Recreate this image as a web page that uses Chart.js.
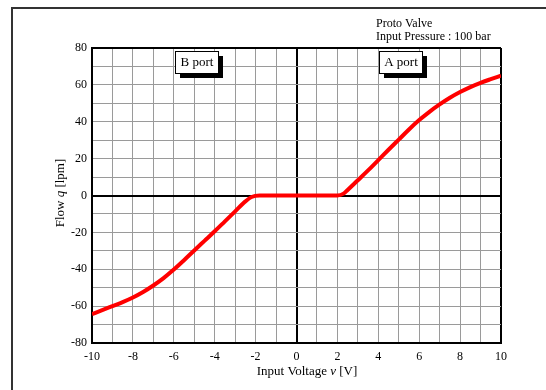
<!DOCTYPE html>
<html>
<head>
<meta charset="utf-8">
<script src="https://cdn.jsdelivr.net/npm/chart.js@4/dist/chart.umd.min.js"></script>
<style>
  html, body { margin: 0; padding: 0; background: #fff; }
  #wrap { width: 546px; height: 390px; position: relative; }
</style>
</head>
<body>
<div id="wrap"><canvas id="c" width="546" height="390"></canvas></div>
<script>
// Flow characteristic of the prototype valve (input pressure 100 bar)
const voltage = [-10, -9.5, -9, -8.5, -8, -7.5, -7, -6.5, -6, -5.5, -5, -4.5, -4, -3.5, -3, -2.5, -2.2, -1.8, 0, 2, 2.3, 2.5, 3, 3.5, 4, 4.5, 5, 5.5, 6, 6.5, 7, 7.5, 8, 8.5, 9, 9.5, 10];
const flow = [-64.3, -62.2, -60, -57.8, -55.3, -52.3, -48.8, -44.8, -40.2, -35.1, -29.8, -24.6, -19.4, -14, -8.6, -3.2, -0.8, 0, 0, 0, 1, 3, 8.3, 13.6, 19.2, 24.8, 30.3, 35.8, 40.9, 45.4, 49.4, 53, 56.1, 58.8, 61.1, 63.1, 65];

const xTicks = [-10, -8, -6, -4, -2, 0, 2, 4, 6, 8, 10];
const yTicks = [-80, -60, -40, -20, 0, 20, 40, 60, 80];
const portLabels = [
  { text: 'B port', x: -5.95, y: 78.2 },
  { text: 'A port', x: 4.05, y: 78.2 }
];
const noteLines = ['Proto Valve', 'Input Pressure : 100 bar'];

const SERIF = '"Liberation Serif", "Times New Roman", serif';

function gridColor(ctx, min, max) {
  const v = ctx.tick.value;
  return (v === 0 || v === min || v === max) ? '#000' : '#9a9a9a';
}
function gridWidth(ctx, min, max) {
  const v = ctx.tick.value;
  return (v === 0 || v === min || v === max) ? 2 : 1;
}

const decorations = {
  id: 'decorations',
  beforeDraw(chart) {
    const c = chart.ctx;
    c.save();
    c.fillStyle = '#fff';
    c.fillRect(0, 0, chart.width, chart.height);
    // outer frame
    c.strokeStyle = '#333';
    c.lineWidth = 2;
    c.strokeRect(12, 8, 700, 600);
    c.restore();
  },
  afterDraw(chart) {
    const c = chart.ctx;
    const xs = chart.scales.x, ys = chart.scales.y;
    c.save();
    // port boxes with drop shadow
    c.font = '13px ' + SERIF;
    c.textBaseline = 'middle';
    c.textAlign = 'center';
    portLabels.forEach(p => {
      const left = Math.round(xs.getPixelForValue(p.x));
      const top = Math.round(ys.getPixelForValue(p.y));
      const w = 43, h = 22;
      c.fillStyle = '#000';
      c.fillRect(left + 5, top + 5, w, h);
      c.fillStyle = '#fff';
      c.fillRect(left, top, w, h);
      c.strokeStyle = '#000';
      c.lineWidth = 1;
      c.strokeRect(left + 0.5, top + 0.5, w, h);
      c.fillStyle = '#000';
      c.fillText(p.text, left + w / 2 + 0.5, top + h / 2 + 1);
    });
    // note in the top-right corner
    c.font = '12px ' + SERIF;
    c.textAlign = 'left';
    c.textBaseline = 'alphabetic';
    c.fillText(noteLines[0], 376, 27);
    c.fillText(noteLines[1], 376, 40);

    // axis titles with italic variable names
    function mixed(parts, cx, cy) {
      let total = 0;
      parts.forEach(p => { c.font = (p.it ? 'italic ' : '') + '13px ' + SERIF; p.w = c.measureText(p.t).width; total += p.w; });
      let x = cx - total / 2;
      parts.forEach(p => { c.font = (p.it ? 'italic ' : '') + '13px ' + SERIF; c.fillText(p.t, x, cy); x += p.w; });
    }
    c.textBaseline = 'middle';
    c.textAlign = 'left';
    mixed([{ t: 'Input Voltage ' }, { t: 'v', it: true }, { t: ' [V]' }], 307, 372);
    c.translate(61, 193);
    c.rotate(-Math.PI / 2);
    mixed([{ t: 'Flow ' }, { t: 'q', it: true }, { t: ' [lpm]' }], 0, 0);
    c.restore();
  }
};

new Chart(document.getElementById('c'), {
  type: 'line',
  data: {
    datasets: [{
      data: voltage.map((v, i) => ({ x: v, y: flow[i] })),
      borderColor: '#ff0000',
      borderWidth: 4,
      pointRadius: 0,
      cubicInterpolationMode: 'monotone',
      fill: false
    }]
  },
  options: {
    responsive: false,
    animation: false,
    events: [],
    layout: { padding: { left: 0, right: 45, top: 48, bottom: 0 } },
    plugins: { legend: { display: false }, tooltip: { enabled: false } },
    scales: {
      x: {
        type: 'linear',
        min: -10, max: 10,
        afterFit: s => { s.height = 47; },
        border: { display: true, color: '#000', width: 2 },
        grid: {
          drawTicks: false,
          color: ctx => gridColor(ctx, -10, 10),
          lineWidth: ctx => gridWidth(ctx, -10, 10)
        },
        ticks: {
          stepSize: 1,
          padding: 7,
          maxRotation: 0,
          autoSkip: false,
          color: '#000',
          font: { family: SERIF, size: 12 },
          callback: v => (xTicks.includes(v) ? String(v) : '')
        }
      },
      y: {
        type: 'linear',
        min: -80, max: 80,
        afterFit: s => { s.width = 92; },
        border: { display: true, color: '#000', width: 2 },
        grid: {
          drawTicks: false,
          color: ctx => gridColor(ctx, -80, 80),
          lineWidth: ctx => gridWidth(ctx, -80, 80)
        },
        ticks: {
          stepSize: 10,
          padding: 5,
          autoSkip: false,
          color: '#000',
          font: { family: SERIF, size: 12 },
          callback: v => (yTicks.includes(v) ? String(v) : '')
        }
      }
    }
  },
  plugins: [decorations]
});
</script>
</body>
</html>
